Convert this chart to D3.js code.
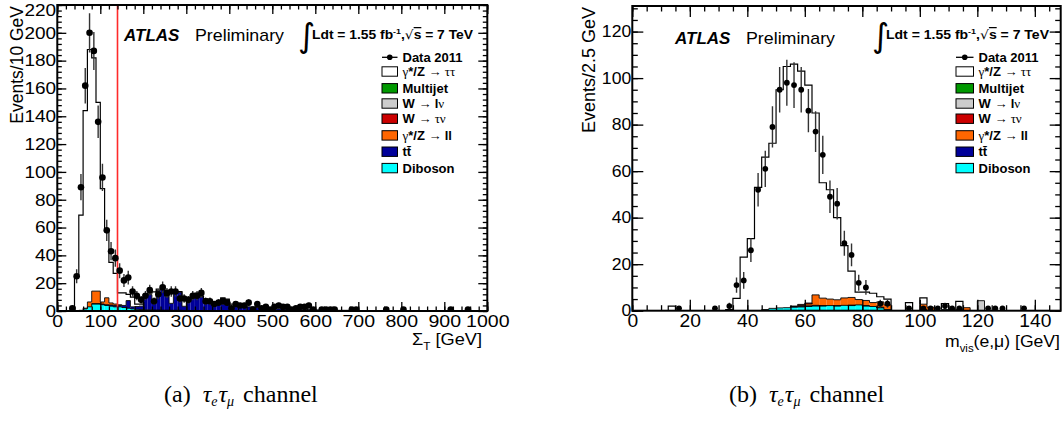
<!DOCTYPE html>
<html><head><meta charset="utf-8">
<script src="https://cdn.jsdelivr.net/npm/d3@7"></script>
<style>body{margin:0;background:#fff}svg{display:block}</style>
</head><body>
<svg id="c" width="1064" height="427"></svg>
<script>
// ---------------- DATA (bin low edge, value) ----------------
// Left panel: Sigma_T, 10 GeV bins
const leftBinWidth = 10;
const leftData = [[30,2],[40,25],[50,89],[60,162],[70,200],[80,187],[90,136],[100,96],[110,58],[120,43],[130,38],[140,29],[150,22],[160,24],[170,14],[180,11],[190,8],[200,11],[210,15],[220,7],[230,12],[240,17],[250,13],[260,14],[270,14],[280,9],[290,9],[300,8],[310,11],[320,11],[330,13],[340,7],[350,7],[360,5],[370,6],[380,7],[390,6],[400,2],[410,5],[420,4],[430,4],[440,6],[450,1],[460,5],[470,2],[480,3],[490,1],[500,3],[510,4],[520,3],[530,3],[540,1],[550,2],[560,3],[570,3],[580,4],[590,1],[610,1],[620,1],[630,1],[640,1],[680,1],[690,1],[760,1],[800,1],[910,1],[950,1]];
const leftDiboson = [[50,0.5],[60,1.5],[70,3],[80,5],[90,5],[100,4.5],[110,4],[120,3.5],[130,3],[140,3],[150,2.5],[160,2],[170,1.5],[180,1.2],[190,1],[200,0.8],[210,0.8],[220,0.7],[230,0.7],[240,0.6],[250,0.6],[260,0.5],[270,0.5],[280,0.5],[290,0.4],[300,0.4],[310,0.3],[320,0.3],[330,0.3],[340,0.3]];
const leftTtbar = [[80,0.3],[90,0.3],[100,0.5],[110,0.5],[120,0.8],[130,1],[140,1],[150,1.5],[160,5.5],[170,1.5],[180,2],[190,2.5],[200,10],[210,11],[220,6],[230,14],[240,17],[250,10],[260,5],[270,13],[280,13],[290,3],[300,9],[310,9],[320,12],[330,10],[340,8],[350,6],[360,5],[370,6],[380,9],[390,8],[400,2],[410,5],[420,4],[430,3],[440,3],[450,3],[460,2.5],[470,2],[480,2],[490,2],[500,1.5],[510,1.5],[520,1.5],[530,1.2],[540,1.2],[550,1],[560,1],[570,1],[580,1],[590,0.8],[600,0.8],[610,0.7],[620,0.7],[630,0.6],[640,0.6],[650,0.5],[660,0.5],[670,0.5],[680,0.4],[690,0.4],[700,0.3],[710,0.3],[720,0.3],[730,0.3],[740,0.3],[750,0.3],[760,0.3],[770,0.3],[780,0.3],[790,0.3],[800,1]];
const leftZll = [[60,0.5],[70,3.5],[80,9],[90,9],[100,1.5],[110,5],[120,1.5],[130,1],[140,0.5]];
const leftWtaunu = [];
const leftWlnu = [];
const leftMultijet = [];
const leftTauTau = [[30,1],[40,25],[50,68.5],[60,142],[70,181.5],[80,167.7],[90,135.7],[100,81.5],[110,48.5],[120,29.2],[130,22],[140,8.5],[150,9],[160,4.5],[170,7],[180,1.8],[190,1.5],[200,1],[210,1],[220,7],[230,1],[240,0.5],[250,0.5],[260,8],[270,0.5],[280,0.5],[290,5],[300,0.5],[310,0.5],[320,0.5],[330,0.5],[340,0.5],[350,0.5],[360,0.5],[370,0.5],[380,0.5],[390,0.5],[400,3]];
const leftCut = 140;

// Right panel: m_vis(e,mu), 2.5 GeV bins
const rightBinWidth = 2.5;
const rightData = [[15,1],[27.5,1],[32.5,2],[35,11],[37.5,13],[40,26],[42.5,52],[45,61],[47.5,79],[50,95],[52.5,98],[55,97],[57.5,95],[60,86],[62.5,77],[65,67],[67.5,49],[70,46],[72.5,29],[75,24],[77.5,12],[80,10],[85,3],[87.5,3],[95,1],[100,1],[102.5,1],[105,1],[107.5,2],[110,1],[112.5,1],[122.5,1],[125,1],[127.5,1],[135,1]];
const rightDiboson = [[45,0.5],[47.5,1],[50,1.2],[52.5,1.3],[55,1.5],[57.5,1.6],[60,1.8],[62.5,2],[65,2],[67.5,2.2],[70,2],[72.5,2.3],[75,2.2],[77.5,2.5],[80,2],[82.5,1.8],[85,1.2],[87.5,0.5],[100,0.5],[107.5,0.5]];
const rightTtbar = [[55,0.3],[57.5,0.3],[60,0.3],[62.5,0.3],[65,0.2],[70,0.2],[75,0.2],[80,0.2],[85,0.3]];
const rightZll = [[55,0.2],[57.5,0.4],[60,0.8],[62.5,4.5],[65,3.2],[67.5,2.8],[70,2.5],[72.5,3.2],[75,3.3],[77.5,2.3],[80,2.2],[82.5,1.7],[85,2.3],[87.5,2],[100,2.3],[102.5,1.5],[110,0.5],[112.5,0.5],[115,1.3]];
const rightWtaunu = [[57.5,0.4],[60,0.4]];
const rightWlnu = [[120,4.3]];
const rightMultijet = [];
const rightTauTau = [[12.5,2],[32.5,0.5],[35,5.3],[37.5,23],[40,31],[42.5,53],[45,65.5],[47.5,71],[50,93.8],[52.5,103.7],[55,104],[57.5,100.3],[60,93.7],[62.5,78.2],[65,49.6],[67.5,47],[70,35.3],[72.5,22.5],[75,11.3],[77.5,3.2],[80,3.6],[82.5,4],[85,2.2],[87.5,2.5],[95,3.5],[100,2.7],[107.5,2.5],[112.5,3.5]];

// tick labels
const leftXTicks = [0,100,200,300,400,500,600,700,800,900,1000];
const leftYTicks = [0,20,40,60,80,100,120,140,160,180,200,220];
const rightXTicks = [0,20,40,60,80,100,120,140];
const rightYTicks = [0,20,40,60,80,100,120];

// legend
const legendLabels = ["Data 2011","γ*/Z → ττ","Multijet","W → lν","W → τν","γ*/Z → ll","tt̄","Diboson"];
const componentColors = {tautau:"#ffffff", multijet:"#009900", wlnu:"#cccccc", wtaunu:"#cc0000", zll:"#ff6600", ttbar:"#000099", diboson:"#00ffff"};

// ---------------- DRAWING ----------------
const svg = d3.select("#c");
svg.append("rect").attr("width",1064).attr("height",427).attr("fill","#fff");
const SANS = "'Liberation Sans', Arial, Helvetica, sans-serif";
const SERIF = "'Liberation Serif', 'Times New Roman', Times, serif";

function richText(g, x, y, parts, o) {
  o = o || {};
  const t = g.append("text").attr("x", x).attr("y", y)
    .attr("font-family", o.family || SANS).attr("font-size", o.size || 12)
    .attr("font-weight", o.weight || "normal").attr("fill", "#000")
    .attr("text-anchor", o.anchor || "start");
  parts.forEach(p => {
    const s = t.append("tspan").text(p.t);
    if (p.family) s.attr("font-family", p.family);
    if (p.weight) s.attr("font-weight", p.weight);
    if (p.style) s.attr("font-style", p.style);
    if (p.size) s.attr("font-size", p.size);
    if (p.dy) s.attr("dy", p.dy);
    if (p.dx) s.attr("dx", p.dx);
    if (p.deco) s.attr("text-decoration", p.deco);
  });
  if (o.len) t.attr("textLength", o.len).attr("lengthAdjust", "spacingAndGlyphs");
  if (o.transform) t.attr("transform", o.transform);
  return t;
}

function drawPanel(cfg) {
  const {x, y, bw} = cfg;
  const g = svg.append("g");
  const clipId = "clip" + cfg.id;
  svg.append("clipPath").attr("id", clipId).append("rect")
    .attr("x", x.range()[0]).attr("y", y.range()[1])
    .attr("width", x.range()[1] - x.range()[0]).attr("height", y.range()[0] - y.range()[1]);
  const pg = g.append("g").attr("clip-path", `url(#${clipId})`);

  // stack: bottom -> top
  const comps = cfg.stack;
  const key = v => Math.round(v / bw);
  const edges = new Set();
  comps.forEach(c => c.values.forEach(([e]) => edges.add(key(e))));
  const idx = Array.from(edges).sort((a, b) => a - b);
  const lo = idx[0], hi = idx[idx.length - 1];
  const n = hi - lo + 1;
  const cum = [new Array(n).fill(0)];
  comps.forEach(c => {
    const m = new Map(c.values.map(([e, v]) => [key(e), v]));
    const prev = cum[cum.length - 1];
    cum.push(prev.map((p, i) => p + (m.get(lo + i) || 0)));
  });
  const xe = i => x((lo + i) * bw);
  comps.forEach((c, k) => {
    const below = cum[k], top = cum[k + 1];
    for (let i = 0; i < n; i++) {
      if (top[i] - below[i] <= 0) continue;
      pg.append("rect").attr("x", xe(i)).attr("width", xe(i + 1) - xe(i))
        .attr("y", y(top[i])).attr("height", Math.max(0, y(below[i]) - y(top[i])))
        .attr("fill", c.color).attr("stroke", "none");
    }
  });
  comps.forEach((c, k) => {
    const below = cum[k], top = cum[k + 1];
    let i = 0;
    while (i < n) {
      if (top[i] - below[i] <= 0) { i++; continue; }
      let j = i;
      const pts = [[xe(i), y(below[i])]];
      while (j < n && top[j] - below[j] > 0) {
        pts.push([xe(j), y(top[j])]); pts.push([xe(j + 1), y(top[j])]); j++;
      }
      pts.push([xe(j), y(below[j - 1])]);
      pg.append("path").attr("d", d3.line()(pts)).attr("fill", "none")
        .attr("stroke", "#000").attr("stroke-width", c.sw || 0.9);
      i = j;
    }
  });

  if (cfg.cut !== undefined) {
    pg.append("line").attr("x1", x(cfg.cut)).attr("x2", x(cfg.cut))
      .attr("y1", y.range()[1]).attr("y2", y.range()[0])
      .attr("stroke", "#ff2a2a").attr("stroke-width", 1.6);
  }

  cfg.data.forEach(([e, v]) => {
    const xc = x(e + bw / 2), err = Math.sqrt(v);
    pg.append("line").attr("x1", xc).attr("x2", xc).attr("y1", y(v - err)).attr("y2", y(v + err))
      .attr("stroke", "#333").attr("stroke-width", 1.4);
    pg.append("circle").attr("cx", xc).attr("cy", y(v)).attr("r", cfg.r).attr("fill", "#000");
  });

  // axes (ROOT style inward ticks)
  const [x0, x1] = x.range(), [y0, y1] = y.range();
  const axFont = sel => sel.selectAll("text").attr("font-family", SANS).attr("fill", "#000");
  const mk = (axis, tr) => { const a = g.append("g").attr("transform", tr).call(axis); a.select(".domain").remove(); a.selectAll("line").attr("stroke", "#000").attr("stroke-width", 1.3); return a; };
  const xMinor = d3.range(0, x.domain()[1] + 1e-9, cfg.xMinor);
  const yMinor = d3.range(0, y.domain()[1] + 1e-9, cfg.yMinor);
  const bx = mk(d3.axisBottom(x).tickValues(cfg.xTicks).tickSize(-cfg.tMaj).tickPadding(4).tickFormat(d3.format("d")), `translate(0,${y0})`);
  axFont(bx); bx.selectAll("text").attr("font-size", cfg.xLabSize).attr("dy", "0.71em").attr("y", 4).attr("x", 0).attr("transform", `scale(${cfg.xLabSx},1)`);
  mk(d3.axisBottom(x).tickValues(xMinor).tickSize(-cfg.tMin).tickFormat(""), `translate(0,${y0})`);
  mk(d3.axisTop(x).tickValues(cfg.xTicks).tickSize(-cfg.tMaj).tickFormat(""), `translate(0,${y1})`);
  mk(d3.axisTop(x).tickValues(xMinor).tickSize(-cfg.tMin).tickFormat(""), `translate(0,${y1})`);
  const ly = mk(d3.axisLeft(y).tickValues(cfg.yTicks).tickSize(-cfg.tMaj).tickPadding(1).tickFormat(d3.format("d")), `translate(${x0},0)`);
  axFont(ly); ly.selectAll("text").attr("font-size", cfg.yLabSize).attr("transform", `scale(${cfg.yLabSx},1)`);
  ly.selectAll(".tick").filter(d => y(d) < 10).select("text").attr("dy", "0.62em");
  mk(d3.axisLeft(y).tickValues(yMinor).tickSize(-cfg.tMin).tickFormat(""), `translate(${x0},0)`);
  mk(d3.axisRight(y).tickValues(cfg.yTicks).tickSize(-cfg.tMaj).tickFormat(""), `translate(${x1},0)`);
  mk(d3.axisRight(y).tickValues(yMinor).tickSize(-cfg.tMin).tickFormat(""), `translate(${x1},0)`);

  g.append("rect").attr("x", x0).attr("y", y1).attr("width", x1 - x0).attr("height", y0 - y1)
    .attr("fill", "none").attr("stroke", "#000").attr("stroke-width", 2);

  richText(g, 0, 0, [{t: cfg.yTitle}], {size: cfg.yTitleSize, anchor: "end",
    transform: `translate(${cfg.yTitleX},${y1 + 1}) rotate(-90)`});
  richText(g, cfg.xTitleX, cfg.xTitleY, cfg.xTitle, {size: 17, anchor: "end", len: cfg.xTitleLen});

  // header
  richText(g, cfg.atlasX, cfg.atlasY, [{t: "ATLAS", weight: "bold", style: "italic"}], {size: 17});
  richText(g, cfg.atlasX + 71, cfg.atlasY, [{t: "Preliminary"}], {size: 17, len: 89});
  richText(g, cfg.intX, 47, [{t: "∫"}], {size: 33, family: "'DejaVu Sans', sans-serif"});
  richText(g, cfg.intX + 14, cfg.lumiY, [
    {t: "Ldt = 1.55 fb"}, {t: "-1", size: 8, dy: -5}, {t: ",", dy: 5}, {t: "√", family: "'DejaVu Sans', sans-serif", weight: "normal"}, {t: "s", deco: "overline"}, {t: " = 7 TeV"}
  ], {size: 12.5, weight: "bold", len: cfg.lumiLen});

  // legend
  const rows = [57.3, 71.5, 88.3, 103.5, 118.7, 135.4, 151.7, 168.1];
  const lx = cfg.legX, bwid = cfg.legBoxW;
  const boxColors = [null, componentColors.tautau, componentColors.multijet, componentColors.wlnu, componentColors.wtaunu, componentColors.zll, componentColors.ttbar, componentColors.diboson];
  rows.forEach((ry, i) => {
    if (i === 0) {
      g.append("line").attr("x1", lx).attr("x2", lx + bwid).attr("y1", ry).attr("y2", ry).attr("stroke", "#000").attr("stroke-width", 1.3);
      g.append("circle").attr("cx", lx + bwid / 2).attr("cy", ry).attr("r", 2.8).attr("fill", "#000");
    } else {
      g.append("rect").attr("x", lx).attr("y", ry - 4.7).attr("width", bwid).attr("height", 9.4)
        .attr("fill", boxColors[i]).attr("stroke", "#000").attr("stroke-width", 1);
    }
  });
  const tx = lx + bwid + 5, B = "bold", S = SERIF;
  const legParts = [
    [{t: legendLabels[0], weight: B}],
    [{t: "γ", family: S}, {t: "*/Z ", weight: B}, {t: "→ ττ", family: S}],
    [{t: legendLabels[2], weight: B}],
    [{t: "W ", weight: B}, {t: "→ ", family: S}, {t: "l", weight: B}, {t: "ν", family: S}],
    [{t: "W ", weight: B}, {t: "→ τν", family: S}],
    [{t: "γ", family: S}, {t: "*/Z ", weight: B}, {t: "→ ", family: S}, {t: "ll", weight: B}],
    [{t: legendLabels[6], weight: B}],
    [{t: legendLabels[7], weight: B}]
  ];
  legParts.forEach((p, i) => richText(g, tx, rows[i] + 4.6, p, {size: 13}));
}

const leftX = d3.scaleLinear().domain([0, 1000]).range([57.3, 487.3]);
const leftY = d3.scaleLinear().domain([0, 220]).range([311, 5]);
drawPanel({
  id: "L", x: leftX, y: leftY, bw: leftBinWidth, r: 3.3, cut: leftCut,
  data: leftData,
  stack: [
    {values: leftDiboson, color: componentColors.diboson},
    {values: leftTtbar, color: componentColors.ttbar},
    {values: leftZll, color: componentColors.zll},
    {values: leftWtaunu, color: componentColors.wtaunu},
    {values: leftWlnu, color: componentColors.wlnu},
    {values: leftMultijet, color: componentColors.multijet},
    {values: leftTauTau, color: componentColors.tautau, sw: 1.2}
  ],
  xTicks: leftXTicks, yTicks: leftYTicks, xMinor: 20, yMinor: 4, tMaj: 9, tMin: 4.5,
  xLabSize: 17, xLabSx: 1.15, yLabSize: 16.5, yLabSx: 1.15,
  yTitle: "Events/10 GeV", yTitleSize: 17.5, yTitleX: 23,
  xTitle: [{t: "Σ"}, {t: "T", size: 11, dy: 5}, {t: " [GeV]", dy: -5}], xTitleX: 482, xTitleY: 345, xTitleLen: 70,
  atlasX: 124, atlasY: 41, intX: 298, lumiY: 39, lumiLen: 161,
  legX: 382, legBoxW: 15.5
});

const rightX = d3.scaleLinear().domain([0, 149]).range([632.3, 1060.7]);
const rightY = d3.scaleLinear().domain([0, 131]).range([310.7, 6]);
drawPanel({
  id: "R", x: rightX, y: rightY, bw: rightBinWidth, r: 2.9,
  data: rightData,
  stack: [
    {values: rightDiboson, color: componentColors.diboson},
    {values: rightTtbar, color: componentColors.ttbar},
    {values: rightZll, color: componentColors.zll},
    {values: rightWtaunu, color: componentColors.wtaunu},
    {values: rightWlnu, color: componentColors.wlnu},
    {values: rightMultijet, color: componentColors.multijet},
    {values: rightTauTau, color: componentColors.tautau, sw: 1.2}
  ],
  xTicks: rightXTicks, yTicks: rightYTicks, xMinor: 5, yMinor: 5, tMaj: 11, tMin: 5.5,
  xLabSize: 17.5, xLabSx: 1.1, yLabSize: 16, yLabSx: 1.1,
  yTitle: "Events/2.5 GeV", yTitleSize: 18, yTitleX: 595,
  xTitle: [{t: "m"}, {t: "vis", size: 11, dy: 5}, {t: "(e,μ) [GeV]", dy: -5}], xTitleX: 1060, xTitleY: 347, xTitleLen: 115,
  atlasX: 675, atlasY: 44, intX: 872, lumiY: 39, lumiLen: 163,
  legX: 956, legBoxW: 17.5
});

// captions
function caption(x, letter) {
  richText(svg, x, 402, [
    {t: "(" + letter + ")"}, {t: "τ", style: "italic", dx: 12}, {t: "e", style: "italic", size: 14, dy: 4},
    {t: "τ", style: "italic", dy: -4, dx: 1}, {t: "μ", style: "italic", size: 14, dy: 4}, {t: "channel", dy: -4, dx: 9}
  ], {family: SERIF, size: 24});
}
caption(164, "a");
caption(729, "b");
</script>
</body></html>
